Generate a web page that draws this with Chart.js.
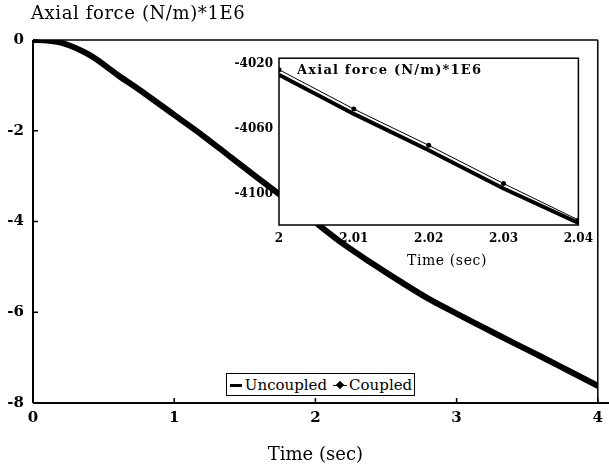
<!DOCTYPE html>
<html>
<head>
<meta charset="utf-8">
<script src="https://cdn.jsdelivr.net/npm/chart.js@4/dist/chart.umd.min.js"></script>
<style>
  html, body { margin: 0; padding: 0; background: #fff; }
  #wrap { position: relative; width: 609px; height: 468px; overflow: hidden; }
  #main { position: absolute; left: 0; top: 0; }
  #inset { position: absolute; left: 220px; top: 45px; }
  #legend { position: absolute; left: 226px; top: 373px; width: 187px; height: 21px; border: 1.5px solid #000; background: #fff;
            font: 15px "DejaVu Serif", serif; color: #000; display: flex; align-items: center; justify-content: center; white-space: nowrap; }
  .sym { display: inline-block; position: relative; width: 14px; height: 10px; margin-right: 2px; }
  .sym.u::before { content: ""; position: absolute; left: 1px; right: 1px; top: 4px; height: 3px; background: #000; }
  .sym.c { margin-left: 6px; }
  .sym.c::before { content: ""; position: absolute; left: 0; right: 0; top: 5px; height: 1px; background: #000; }
  .sym.c::after { content: ""; position: absolute; left: 4px; top: 2px; width: 6px; height: 6px; transform: rotate(45deg); background: #000; }
</style>
</head>
<body>
<div id="wrap">
  <canvas id="main" width="609" height="468"></canvas>
  <canvas id="inset" width="380" height="225"></canvas>
  <div id="legend"></div>
</div>
<script>
// ---- data ----
const yTitle = "Axial force (N/m)*1E6";
const xTitle = "Time (sec)";
const seriesNames = ["Uncoupled", "Coupled"];

const mainTime = [0, 0.1, 0.2, 0.4, 0.6, 0.8, 1.0, 1.2, 1.4, 1.6, 1.8, 2.0, 2.2, 2.4, 2.6, 2.8, 3.0, 3.2, 3.4, 3.6, 3.8, 4.0];
const mainUncoupled = [0, -0.01, -0.06, -0.33, -0.77, -1.2, -1.65, -2.1, -2.58, -3.06, -3.53, -4.02, -4.5, -4.92, -5.32, -5.7, -6.03, -6.35, -6.67, -6.98, -7.3, -7.62];
const mainXTicks = [0, 1, 2, 3, 4];
const mainYTicks = [0, -2, -4, -6, -8];

const insetTime = [2.00, 2.01, 2.02, 2.03, 2.04];
const insetUncoupled = [-4026.7, -4050.9, -4073.3, -4097.0, -4118.2];
const insetCoupled = [-4023.6, -4047.9, -4070.3, -4093.9, -4116.4];
const insetXTicks = [2.00, 2.01, 2.02, 2.03, 2.04];
const insetYTicks = [-4020, -4060, -4100];

// ---- legend (HTML) ----
document.getElementById('legend').innerHTML =
  '<span class="sym u"></span>' + seriesNames[0] + '<span class="sym c"></span>' + seriesNames[1];

const SERIF = '"DejaVu Serif", serif';

const mainFrame = {
  id: 'mainFrame',
  afterDraw(chart) {
    const { ctx, chartArea: a, scales } = chart;
    ctx.save();
    ctx.strokeStyle = '#000';
    ctx.lineWidth = 1.5;
    ctx.beginPath();
    ctx.moveTo(a.left, a.top); ctx.lineTo(a.right, a.top);
    ctx.moveTo(a.right, a.top); ctx.lineTo(a.right, a.bottom);
    ctx.stroke();
    ctx.lineWidth = 2;
    ctx.beginPath();
    ctx.moveTo(a.left, a.top); ctx.lineTo(a.left, a.bottom);
    ctx.moveTo(a.left, a.bottom); ctx.lineTo(chart.width, a.bottom);
    ctx.stroke();
    ctx.lineWidth = 1.5;
    ctx.beginPath();
    scales.y.ticks.forEach(t => { const p = scales.y.getPixelForValue(t.value); ctx.moveTo(a.left, p); ctx.lineTo(a.left + 5, p); });
    scales.x.ticks.forEach(t => { const p = scales.x.getPixelForValue(t.value); ctx.moveTo(p, a.bottom); ctx.lineTo(p, a.bottom - 5); });
    ctx.stroke();
    ctx.fillStyle = '#000';
    ctx.font = '18px ' + SERIF;
    ctx.letterSpacing = '0.6px';
    ctx.textBaseline = 'middle';
    ctx.textAlign = 'left';
    ctx.fillText(yTitle, 31, 14);
    ctx.restore();
  }
};

new Chart(document.getElementById('main'), {
  type: 'line',
  data: {
    datasets: [{
      label: seriesNames[0],
      data: mainTime.map((t, i) => ({ x: t, y: mainUncoupled[i] })),
      borderColor: '#000', backgroundColor: '#000', borderWidth: 6,
      pointRadius: 0, cubicInterpolationMode: 'monotone', borderCapStyle: 'round'
    }]
  },
  options: {
    responsive: false, animation: false, events: [],
    layout: { padding: { top: 40, right: 4, left: 0, bottom: 0 } },
    plugins: { legend: { display: false }, tooltip: { enabled: false } },
    scales: {
      x: {
        type: 'linear', min: 0, max: 4,
        afterBuildTicks: s => { s.ticks = mainXTicks.map(v => ({ value: v })); },
        afterFit: s => { s.height = 65; },
        grid: { display: false, drawTicks: false }, border: { display: false },
        ticks: { color: '#000', font: { family: SERIF, size: 15, weight: 'bold' }, padding: 6, maxRotation: 0, callback: v => String(v) },
        title: { display: true, text: xTitle, color: '#000', font: { family: SERIF, size: 18 }, padding: { top: 0, bottom: 2 } }
      },
      y: {
        type: 'linear', min: -8, max: 0,
        afterBuildTicks: s => { s.ticks = mainYTicks.map(v => ({ value: v })); },
        afterFit: s => { s.width = 33; },
        grid: { display: false, drawTicks: false }, border: { display: false },
        ticks: { color: '#000', font: { family: SERIF, size: 15, weight: 'bold' }, padding: 9, callback: v => String(v) }
      }
    }
  },
  plugins: [mainFrame]
});

const insetFrame = {
  id: 'insetFrame',
  beforeDraw(chart) {
    const { ctx, chartArea: a } = chart;
    ctx.save();
    ctx.fillStyle = '#fff';
    ctx.fillRect(a.left, a.top, a.right - a.left, a.bottom - a.top);
    ctx.restore();
  },
  afterDraw(chart) {
    const { ctx, chartArea: a } = chart;
    ctx.save();
    ctx.strokeStyle = '#000';
    ctx.lineWidth = 1.5;
    ctx.strokeRect(a.left, a.top, a.right - a.left, a.bottom - a.top);
    ctx.fillStyle = '#000';
    ctx.font = 'bold 13px ' + SERIF;
    ctx.letterSpacing = '1.2px';
    ctx.textBaseline = 'middle';
    ctx.textAlign = 'left';
    ctx.fillText(yTitle, a.left + 18, a.top + 12);
    ctx.font = '14px ' + SERIF;
    ctx.letterSpacing = '0.6px';
    ctx.textAlign = 'center';
    ctx.fillText(xTitle, 447 - 220, 261 - 45);
    ctx.restore();
  }
};

new Chart(document.getElementById('inset'), {
  type: 'line',
  data: {
    datasets: [{
      label: seriesNames[0],
      data: insetTime.map((t, i) => ({ x: t, y: insetUncoupled[i] })),
      borderColor: '#000', borderWidth: 4, pointRadius: 0
    }, {
      label: seriesNames[1],
      data: insetTime.map((t, i) => ({ x: t, y: insetCoupled[i] })),
      borderColor: '#000', backgroundColor: '#000', borderWidth: 1,
      pointRadius: 2.5, pointBorderWidth: 0
    }]
  },
  options: {
    responsive: false, animation: false, events: [],
    layout: { padding: { top: 10, right: 11, left: 0, bottom: 0 } },
    plugins: { legend: { display: false }, tooltip: { enabled: false } },
    scales: {
      x: {
        type: 'linear', min: 2.0, max: 2.04,
        afterBuildTicks: s => { s.ticks = insetXTicks.map(v => ({ value: v })); },
        afterFit: s => { s.height = 45; },
        grid: { display: false, drawTicks: false }, border: { display: false },
        ticks: { color: '#000', font: { family: SERIF, size: 12, weight: 'bold' }, padding: 7, maxRotation: 0,
                 callback: v => (Math.abs(v - 2) < 1e-9 ? '2' : v.toFixed(2)) }
      },
      y: {
        type: 'linear', min: -4119.5, max: -4016.5,
        afterBuildTicks: s => { s.ticks = insetYTicks.map(v => ({ value: v })); },
        afterFit: s => { s.width = 59; },
        grid: { display: false, drawTicks: false }, border: { display: false },
        ticks: { color: '#000', font: { family: SERIF, size: 12, weight: 'bold' }, padding: 6, callback: v => String(v) }
      }
    }
  },
  plugins: [insetFrame]
});
</script>
</body>
</html>
